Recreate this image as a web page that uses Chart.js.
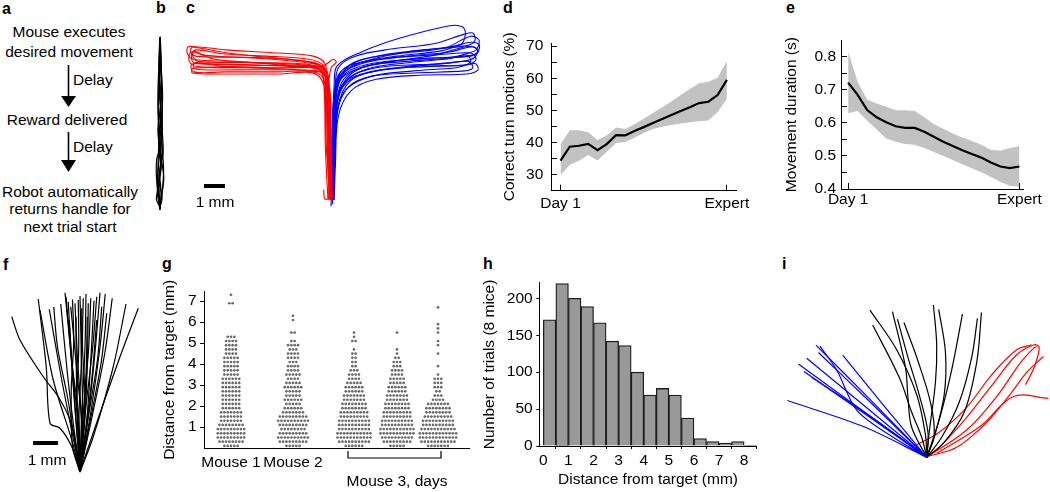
<!DOCTYPE html>
<html>
<head>
<meta charset="utf-8">
<script src="https://cdn.jsdelivr.net/npm/chart.js@4.4.1/dist/chart.umd.min.js"></script>
<style>
  body { margin: 0; width: 1050px; height: 492px; position: relative; overflow: hidden; background: #fff;
         font-family: 'Liberation Sans', Arial, sans-serif; color: #000; }
  canvas { position: absolute; }
  .lbl { position: absolute; font-weight: bold; font-size: 16px; line-height: 16px; }
  .t { position: absolute; font-size: 15.5px; line-height: 15.5px; white-space: nowrap; transform: translate(-50%, -50%); }
  .tl { position: absolute; font-size: 15.5px; line-height: 15.5px; white-space: nowrap; transform: translateY(-50%); }
  .bar { position: absolute; background: #000; }
  svg { position: absolute; left: 0; top: 0; }
</style>
</head>
<body>

<!-- panel letters -->
<div class="lbl" style="left:2px;top:1px">a</div>
<div class="lbl" style="left:156px;top:0px">b</div>
<div class="lbl" style="left:186px;top:0px">c</div>
<div class="lbl" style="left:503px;top:0px">d</div>
<div class="lbl" style="left:786px;top:0px">e</div>
<div class="lbl" style="left:3px;top:257px">f</div>
<div class="lbl" style="left:162px;top:256px">g</div>
<div class="lbl" style="left:483px;top:256px">h</div>
<div class="lbl" style="left:782px;top:256px">i</div>

<!-- panel a: task sequence -->
<div class="t" style="left:69px;top:32px">Mouse executes</div>
<div class="t" style="left:69px;top:52px">desired movement</div>
<div class="tl" style="left:73px;top:80px">Delay</div>
<div class="t" style="left:67px;top:120px">Reward delivered</div>
<div class="tl" style="left:73px;top:147px">Delay</div>
<div class="t" style="left:70px;top:192px">Robot automatically</div>
<div class="t" style="left:70px;top:209px">returns handle for</div>
<div class="t" style="left:70px;top:227px">next trial start</div>
<svg width="160" height="240">
  <line x1="68.5" y1="65" x2="68.5" y2="98" stroke="#000" stroke-width="1.6"/>
  <polygon points="61,96 76,96 68.5,107" fill="#000"/>
  <line x1="68.5" y1="132" x2="68.5" y2="162" stroke="#000" stroke-width="1.6"/>
  <polygon points="61,160 76,160 68.5,172" fill="#000"/>
</svg>

<!-- trajectory panels -->
<canvas id="chartB" width="25" height="195" style="left:150px;top:25px"></canvas>
<canvas id="chartC" width="310" height="200" style="left:180px;top:15px"></canvas>
<div class="bar" style="left:204px;top:184px;width:21px;height:4px"></div>
<div class="t" style="left:215px;top:202px">1 mm</div>

<canvas id="chartD" width="270" height="200" style="left:490px;top:20px"></canvas>
<canvas id="chartE" width="270" height="200" style="left:780px;top:20px"></canvas>

<canvas id="chartF" width="160" height="200" style="left:0px;top:280px"></canvas>
<div class="bar" style="left:33px;top:441px;width:25px;height:4px"></div>
<div class="t" style="left:47px;top:460px">1 mm</div>

<canvas id="chartG" width="320" height="220" style="left:160px;top:270px"></canvas>
<canvas id="chartH" width="302" height="220" style="left:478px;top:270px"></canvas>
<canvas id="chartI" width="270" height="200" style="left:780px;top:280px"></canvas>

<script>
// ---- d: correct turn motions (%) per session
const sessionLabels = ['Day 1', '', '', '', '', '', '', '', '', '', '', '', '', '', '', '', '', '', 'Expert'];
const turnMean  = [34.4, 38.7, 39.0, 39.6, 37.6, 39.5, 42.3, 42.2, 43.6, 44.8, 46.1, 47.3, 48.6, 49.8, 51.0, 52.3, 52.7, 54.8, 59.5];
const turnUpper = [39.5, 43.8, 43.8, 43.2, 40.8, 42.2, 44.7, 44.2, 45.7, 47.4, 49.2, 51.0, 52.8, 54.8, 56.7, 58.5, 58.9, 60.2, 65.4];
const turnLower = [29.8, 33.1, 34.3, 36.1, 34.4, 37.1, 39.8, 40.2, 41.5, 43.0, 44.2, 44.9, 45.5, 45.9, 46.3, 46.6, 46.9, 49.4, 53.6];
const turnTicks = [30, 35, 40, 45, 50, 55, 60, 65, 70];

// ---- e: movement duration (s) per session
const durMean  = [0.722, 0.685, 0.639, 0.617, 0.602, 0.590, 0.585, 0.585, 0.573, 0.558, 0.543, 0.530, 0.517, 0.506, 0.495, 0.480, 0.468, 0.463, 0.468];
const durUpper = [0.815, 0.724, 0.670, 0.659, 0.649, 0.638, 0.638, 0.636, 0.617, 0.597, 0.582, 0.568, 0.556, 0.545, 0.534, 0.519, 0.516, 0.524, 0.529];
const durLower = [0.629, 0.636, 0.607, 0.580, 0.553, 0.543, 0.536, 0.534, 0.524, 0.512, 0.500, 0.488, 0.475, 0.463, 0.451, 0.436, 0.421, 0.410, 0.407];
const durTicks = [0.4, 0.45, 0.5, 0.55, 0.6, 0.65, 0.7, 0.75, 0.8];

// ---- g: distance from target, dots per 0.2 mm row (row 0 = 0-0.2 mm)
const groupNames = ['Mouse 1', 'Mouse 2', 'Mouse 3 day 1', 'Mouse 3 day 2', 'Mouse 3 day 3'];
const gTickLabels = ['Mouse 1', 'Mouse 2', ['', 'Mouse 3, days']];
const mouse1Rows = [5, 8, 9, 9, 9, 8, 7, 7, 7, 6, 6, 6, 6, 6, 6, 6, 6, 5, 5, 5, 5, 5, 4, 4, 4, 4, 3, 0, 0, 0, 0, 0, 0, 0, 2, 0, 1];
const mouse2Rows = [5, 9, 10, 9, 8, 9, 10, 9, 7, 6, 5, 6, 5, 5, 6, 5, 4, 5, 4, 4, 3, 4, 4, 3, 4, 2, 0, 2, 0, 0, 1, 1];
const day1Rows   = [6, 10, 11, 11, 10, 10, 10, 9, 9, 8, 8, 7, 7, 6, 6, 5, 4, 4, 3, 2, 2, 2, 2, 1, 0, 2, 1, 1];
const day2Rows   = [5, 9, 10, 11, 11, 10, 10, 9, 9, 8, 8, 7, 7, 6, 6, 5, 5, 4, 4, 3, 3, 2, 1, 1, 0, 0, 0, 1];
const day3Rows   = [7, 11, 12, 12, 11, 10, 10, 9, 8, 8, 7, 4, 3, 2, 3, 3, 3, 1, 0, 1, 0, 0, 1, 0, 1, 1, 0, 1, 1, 1, 0, 0, 0, 1];
const distTicks = [1, 2, 3, 4, 5, 6, 7];

// ---- h: histogram, 0.5 mm bins
const binStarts = [0, 0.5, 1, 1.5, 2, 2.5, 3, 3.5, 4, 4.5, 5, 5.5, 6, 6.5, 7, 7.5, 8];
const trialCounts = [171, 220, 200, 189, 167, 142, 136, 100, 69, 78, 69, 38, 10, 6, 4, 6, 1];
const countTicks = [0, 50, 100, 150, 200];
const mmTicks = [0, 1, 2, 3, 4, 5, 6, 7, 8];

// ---- b: straight-movement traces (mm)
const straightPaths = [
  [[0, 0], [-0.12, 0.8], [-0.1, 2], [-0.05, 3.5], [-0.08, 5], [-0.03, 6.5], [0, 8.25]],
  [[0, 0.1], [0.12, 1], [0.17, 2], [0.08, 3.3], [0.1, 4.8], [0.05, 6.5], [0.02, 8.1]],
  [[0.02, 0.2], [-0.15, 1.3], [-0.16, 2.4], [0.02, 3], [-0.08, 4.2], [-0.1, 5.5], [-0.05, 7], [-0.02, 8]],
  [[0, 0.05], [0.05, 0.9], [-0.02, 1.8], [0.15, 2.7], [0.1, 4], [0.12, 5.6], [0.03, 7.2], [0, 8.2]],
  [[0.01, 0.3], [0.18, 1.5], [0.05, 2.5], [-0.1, 3.8], [0.05, 5.2], [-0.05, 6.8], [-0.01, 7.9]],
  [[0, 0], [-0.05, 1.5], [0.1, 2.9], [0, 4.5], [0.08, 6], [0.02, 7.5], [0.01, 8.25]],
  [[0.02, 0.1], [-0.08, 1.1], [0.06, 2.2], [-0.06, 3.4], [0.04, 4.6], [-0.04, 6.1], [0.02, 7.6], [0, 8.2]],
  [[-0.02, 0.05], [0.1, 0.6], [-0.1, 1.6], [0.1, 3.9], [-0.05, 5.9], [0.05, 7], [0.01, 8.15]],
  [[0, 0.15], [-0.17, 0.5], [-0.1, 1.0], [0.05, 2.0], [-0.02, 3.0], [0.06, 4.2], [-0.02, 5.8], [0, 8.0]]
];

// ---- c: left (red) and right (blue) turn trajectories (mm)
const leftTurns = [
  [[0, 0], [-0.1, 2], [-0.15, 4.5], [-0.2, 5.8], [-0.6, 6.45], [-2, 6.7], [-4.5, 6.95], [-6.3, 7.25], [-6.75, 7.3], [-6.8, 7.0], [-6.5, 6.7], [-4.5, 6.6], [-2, 6.4], [-0.5, 6.2], [-0.1, 5.4], [0, 2.5], [0.05, 0]],
  [[0.05, 0], [-0.05, 2.5], [-0.1, 5], [0.05, 6.3], [0.3, 6.55], [0.15, 6.7], [-0.3, 6.4], [-1, 6.4], [-3, 6.5], [-5.5, 6.7], [-6.6, 7.05], [-6.7, 6.6], [-6.3, 6.35], [-4, 6.3], [-1.5, 6.2], [-0.3, 6.0], [-0.05, 4.8], [0.05, 1.5], [0.1, 0.1]],
  [[-0.3, 0.5], [-0.25, 0.05], [-0.05, 0.1], [-0.2, 3], [-0.25, 5.5], [-0.5, 6.25], [-1.5, 6.45], [-4, 6.55], [-6.2, 6.5], [-6.6, 6.45], [-6.5, 6.1], [-5, 6.1], [-2.5, 6.1], [-0.6, 6.05], [-0.15, 5.2], [-0.05, 2], [0, 0.05]],
  [[0.02, 0], [-0.12, 2.2], [-0.2, 5.2], [-0.35, 6.3], [-1.2, 6.55], [-3.5, 6.75], [-6, 6.9], [-6.5, 7.1], [-6.6, 6.75], [-6.4, 6.5], [-4, 6.45], [-1.8, 6.35], [-0.4, 6.2], [-0.08, 5], [0.02, 1.2], [0.08, 0.05]],
  [[0.05, 0.05], [-0.08, 2.8], [-0.15, 5.4], [-0.3, 6.4], [-1, 6.7], [-3, 6.85], [-5, 6.95], [-6.4, 7.15], [-6.55, 6.9], [-6.3, 6.6], [-3.5, 6.55], [-1, 6.45], [-0.2, 6.1], [0.02, 4], [0.08, 0.5]],
  [[-0.1, 0.05], [-0.22, 2.5], [-0.28, 5.3], [-0.45, 6.15], [-1.4, 6.35], [-3.5, 6.4], [-6, 6.3], [-6.55, 6.25], [-6.55, 6.05], [-5, 6.0], [-2.5, 6.0], [-0.6, 5.95], [-0.15, 4.5], [-0.05, 1.5], [-0.05, 0]],
  [[0, 0], [-0.08, 3], [-0.12, 5.6], [-0.25, 6.5], [-0.8, 6.85], [-2.5, 7.0], [-5, 7.15], [-6.5, 7.3], [-6.65, 7.1], [-6.4, 6.85], [-4, 6.8], [-1.5, 6.65], [-0.3, 6.3], [-0.02, 4.5], [0.05, 1]],
  [[0.08, 0.05], [0, 3.5], [-0.05, 5.7], [-0.2, 6.2], [-0.7, 6.3], [-2.5, 6.3], [-5, 6.35], [-6.4, 6.55], [-6.5, 6.3], [-6.1, 6.2], [-3, 6.2], [-1, 6.15], [-0.15, 5.9], [0.05, 3], [0.1, 0.1]]
];
const rightTurns = [
  [[0.1, 0], [0.15, 3], [0.2, 5.5], [0.35, 6.4], [1.5, 7.05], [3.3, 7.7], [5.7, 8.3], [6.3, 8.25], [6.45, 7.9], [6.2, 7.4], [4, 7.1], [2, 6.7], [0.7, 6.1], [0.3, 5], [0.2, 2], [0.15, 0]],
  [[0.05, -0.3], [0.1, 2.5], [0.15, 4.5], [0.4, 5.6], [1.2, 6.2], [3, 6.6], [5, 6.9], [6.5, 7.3], [7.0, 7.2], [6.9, 6.8], [6.3, 6.6], [4, 6.4], [2, 6.1], [0.8, 5.6], [0.3, 4.5], [0.15, 1]],
  [[0.1, 0], [0.2, 3], [0.3, 4.6], [0.6, 5.5], [1.5, 6.0], [3.5, 6.3], [5.5, 6.5], [6.6, 6.6], [6.8, 6.3], [6.4, 6.15], [4, 6.05], [2, 5.9], [0.9, 5.4], [0.35, 4.2], [0.2, 1]],
  [[0.15, 0.05], [0.2, 2.8], [0.25, 4.9], [0.45, 5.9], [1.3, 6.5], [3.2, 6.85], [5.3, 7.1], [6.6, 7.5], [7.1, 7.4], [7.0, 7.0], [6.5, 6.85], [4, 6.7], [2, 6.5], [0.7, 6.0], [0.3, 5], [0.2, 1.5]],
  [[0.05, 0], [0.12, 3.2], [0.2, 5.2], [0.5, 6.1], [1.6, 6.7], [3.5, 7.0], [5.5, 7.25], [6.7, 7.8], [7.1, 7.6], [6.9, 7.1], [6.2, 7.0], [4, 6.85], [2, 6.65], [0.6, 6.2], [0.25, 5], [0.1, 1]],
  [[0.2, 0], [0.28, 2.5], [0.35, 4.3], [0.8, 5.3], [2, 5.9], [4, 6.15], [6, 6.3], [6.9, 6.5], [7.05, 6.2], [6.5, 6.0], [4.5, 5.95], [2.2, 5.75], [1, 5.2], [0.4, 4], [0.25, 1.5]],
  [[0.1, 0.1], [0.18, 3], [0.25, 5.3], [0.4, 6.3], [1.2, 6.85], [3, 7.2], [5, 7.45], [6.4, 7.9], [6.8, 7.95], [6.9, 7.6], [6.5, 7.35], [4.5, 7.15], [2.5, 6.9], [0.9, 6.4], [0.3, 5.2], [0.15, 1.5]],
  [[0.12, -0.2], [0.2, 2], [0.3, 4.4], [0.7, 5.6], [1.8, 6.25], [3.8, 6.55], [5.8, 6.75], [6.7, 7.0], [6.95, 6.7], [6.6, 6.45], [4.5, 6.35], [2.4, 6.2], [1, 5.7], [0.4, 4.5], [0.2, 1.2]],
  [[0.08, 0], [0.15, 3], [0.22, 5], [0.55, 6.0], [1.7, 6.55], [3.7, 6.85], [5.7, 7.05], [6.8, 7.3], [7.05, 7.05], [6.7, 6.85], [4.6, 6.75], [2.5, 6.55], [1, 6.0], [0.35, 4.8], [0.15, 1.2]],
  [[0.15, 0], [0.25, 2.5], [0.32, 4.7], [0.65, 5.75], [1.6, 6.35], [3.6, 6.6], [5.6, 6.75], [6.5, 6.9], [6.7, 6.6], [6.3, 6.4], [4.3, 6.45], [2.2, 6.3], [0.9, 5.8], [0.35, 4.6], [0.2, 1]]
];

// ---- f: reach trajectories toward target (mm from start)
const reachPaths = [
  [[0, 0], [-0.11, 0.77], [-0.4, 2.08], [-0.87, 3.01], [-1.47, 3.81], [-2.4, 5.28], [-2.73, 6.21]],
  [[0, 0], [-0.33, 1.01], [-0.8, 1.75], [-1.2, 1.95], [-1.35, 4.2], [-1.67, 6.92]],
  [[0, 0], [-0.33, 1.28], [-1.07, 3.68], [-1.6, 6.48]],
  [[0, 0], [-0.3, 1.5], [-0.73, 3.68], [-1.23, 6.51]],
  [[0, 0], [-0.25, 1.8], [-0.5, 3.9], [-0.77, 6.72]],
  [[0, 0], [-0.15, 2.0], [-0.33, 4.35], [-0.6, 7.17]],
  [[0, 0], [-0.05, 1.6], [-0.3, 4.1], [-0.56, 7.01]],
  [[0, 0], [-0.2, 2.5], [-0.35, 4.6], [-0.47, 6.81]],
  [[0, 0], [0.1, 1.5], [-0.1, 3.8], [-0.37, 6.61]],
  [[0, 0], [0.05, 2.2], [-0.1, 4.5], [-0.2, 6.75]],
  [[0, 0], [-0.12, 2.8], [-0.05, 5], [-0.07, 6.88]],
  [[0, 0], [0.1, 2.5], [0.05, 4.8], [0, 7.04]],
  [[0, 0], [-0.05, 2.0], [0.05, 4.3], [0.07, 6.55]],
  [[0, 0], [0.08, 2.4], [0.2, 5.0], [0.24, 7.12]],
  [[0, 0], [0.2, 2.2], [0.3, 4.6], [0.33, 6.75]],
  [[0, 0], [0.15, 2.6], [0.35, 5.0], [0.43, 6.95]],
  [[0, 0], [0.28, 2.2], [0.45, 4.8], [0.56, 6.85]],
  [[0, 0], [0.2, 2.3], [0.5, 4.9], [0.67, 7.01]],
  [[0, 0], [0.35, 2.4], [0.62, 5.0], [0.8, 7.17]],
  [[0, 0], [0.3, 2.0], [0.7, 4.5], [0.87, 6.61]],
  [[0, 0], [0.45, 2.5], [0.8, 5.0], [1.01, 7.12]],
  [[0, 0], [0.4, 2.0], [0.85, 4.4], [1.07, 6.35]],
  [[0, 0], [0.5, 2.3], [1.0, 4.8], [1.29, 6.95]],
  [[0, 0], [0.53, 1.41], [1.33, 4.21], [1.84, 6.72]],
  [[0, 0], [0.2, 0.61], [0.8, 2.35], [1.6, 4.61], [2.33, 6.55]],
  [[0, 0], [-0.1, 2.2], [-0.15, 4.3], [-0.16, 6.21]],
  [[0, 0], [0.15, 2.0], [0.25, 4.2], [0.29, 6.21]],
  [[0, 0], [0.25, 1.8], [0.5, 4.0], [0.67, 6.08]],
  [[0, 0], [-0.05, 2.2], [-0.3, 4.2], [-0.43, 6.08]],
  [[0, 0], [-0.2, 1.2], [-0.5, 3.0], [-0.9, 5.0], [-1.05, 6.6]],
  [[0, 0], [0.1, 1.0], [0.2, 3.0], [0.1, 5.0], [0.13, 6.95]],
  [[0, 0], [-0.3, 1.0], [-0.35, 3.3], [-0.25, 5.2], [-0.3, 6.9]]
];

// ---- i: three target directions (mm from start)
const iBluePaths = [
  [[0, 0], [-2.53, 1.23], [-5.57, 2.27]],
  [[0, 0], [-2.5, 1.82], [-5.13, 3.73]],
  [[0, 0], [-2.45, 1.72], [-4.91, 3.43]],
  [[0, 0], [-2.4, 1.98], [-4.8, 3.96]],
  [[0, 0], [-2.2, 2.25], [-4.43, 4.49]],
  [[0, 0], [-1.5, 0.9], [-2.8, 1.89], [-3.6, 3.49], [-4.27, 4.45]],
  [[0, 0], [-2.15, 2.1], [-4.33, 4.19]],
  [[0, 0], [-1.7, 2.05], [-3.36, 4.09]],
  [[0, 0], [-2.2, 1.6], [-4.6, 3.2]]
];
const iBlackPaths = [
  [[0, 0], [-0.05, 0.9], [-0.4, 2.5], [-1.2, 4.3], [-2.27, 5.89]],
  [[0, 0], [-0.2, 0.8], [-0.6, 1.8], [-1.1, 3.2], [-2.16, 5.29]],
  [[0, 0], [-0.6, 1.2], [-0.75, 2.4], [-0.85, 3.6], [-1.37, 5.83]],
  [[0, 0], [0.05, 1.0], [-0.3, 2.5], [-0.75, 4.0], [-1.17, 5.53]],
  [[0, 0], [0.3, 0.9], [0.15, 2.2], [-0.4, 4], [-0.91, 5.39]],
  [[0, 0], [0.1, 1.0], [0.35, 3.0], [0.4, 4.5], [0.27, 6.09]],
  [[0, 0], [0.3, 0.8], [0.7, 2.5], [0.75, 4.2], [0.48, 5.92]],
  [[0, 0], [0.5, 1.5], [1.0, 3.5], [1.43, 5.73]],
  [[0, 0], [0.6, 0.8], [1.3, 2.2], [1.8, 4.0], [2.03, 5.56]],
  [[0, 0], [0.7, 0.6], [1.5, 1.8], [2.0, 3.8], [2.19, 5.79]]
];
const iRedPaths = [
  [[0, 0], [1.6, 1.09], [2.8, 2.43], [3.73, 3.76], [4.27, 4.36], [4.4, 4.43]],
  [[0.4, 0.16], [2.13, 1.23], [3.47, 2.43], [4.87, 2.36]],
  [[0.1, 0.05], [1.2, 0.4], [2.4, 1.4], [3.4, 2.6], [4.0, 3.4], [4.67, 4.03]],
  [[0, 0], [0.6, 0.5], [1.6, 1.6], [2.7, 3.0], [3.6, 4.1], [4.3, 4.5], [4.5, 4.4], [4.3, 3.6], [3.95, 2.9]],
  [[-0.4, 0.5], [0.5, 1.0], [1.6, 2.0], [2.6, 3.3], [3.6, 4.3], [4.2, 4.5]]
];

// layout helpers (not data)
const groupPos = [27, 89, 150, 193, 234];
const dotGap = 3.3;
const rowStep = 0.2;

Chart.defaults.font.family = "'Liberation Sans', Arial, sans-serif";
Chart.defaults.font.size = 15.5;
Chart.defaults.color = '#000';
Chart.defaults.animation = false;
Chart.defaults.events = [];
Chart.defaults.plugins.legend.display = false;
Chart.defaults.plugins.tooltip.enabled = false;

const clear = 'rgba(0,0,0,0)';

function pathChart(id, xr, yr, groups) {
  const datasets = [];
  groups.forEach(g => g.paths.forEach(p => datasets.push({
    data: p.map(q => ({ x: q[0], y: q[1] })),
    showLine: true, borderColor: g.color, borderWidth: g.width,
    pointRadius: 0, tension: g.tension, fill: false
  })));
  new Chart(document.getElementById(id), {
    type: 'scatter',
    data: { datasets },
    options: {
      responsive: false,
      layout: { padding: 0 },
      scales: {
        x: { type: 'linear', display: false, min: xr[0], max: xr[1] },
        y: { type: 'linear', display: false, min: yr[0], max: yr[1] }
      }
    }
  });
}

pathChart('chartB', [-0.476, 0.714], [-0.476, 8.81], [{ paths: straightPaths, color: '#000', width: 1.2, tension: 0.3 }]);
pathChart('chartC', [-7.143, 7.619], [-0.714, 8.81], [
  { paths: leftTurns, color: '#ff0000', width: 1.1, tension: 0.35 },
  { paths: rightTurns, color: '#0000ff', width: 1.1, tension: 0.35 }
]);
pathChart('chartF', [-3.2, 3.2], [-0.32, 7.68], [{ paths: reachPaths, color: '#000', width: 1.2, tension: 0.3 }]);
pathChart('chartI', [-5.868, 4.932], [-0.908, 7.092], [
  { paths: iBluePaths, color: '#0000ff', width: 1.2, tension: 0.3 },
  { paths: iBlackPaths, color: '#000', width: 1.2, tension: 0.35 },
  { paths: iRedPaths, color: '#ff0000', width: 1.2, tension: 0.35 }
]);

function pts(vals) { return vals.map((v, i) => ({ x: i, y: v })); }

function sessionChart(id, mean, upper, lower, o) {
  new Chart(document.getElementById(id), {
    type: 'line',
    data: {
      datasets: [
        // mean first so it is drawn on top of the band
        { data: pts(mean), fill: false, borderColor: '#000', borderWidth: 2.2, pointRadius: 0 },
        { data: pts(upper), fill: '+1', backgroundColor: '#c2c2c2', borderColor: clear, borderWidth: 0, pointRadius: 0 },
        { data: pts(lower), fill: false, borderColor: clear, borderWidth: 0, pointRadius: 0 }
      ]
    },
    options: {
      responsive: false,
      layout: { padding: { top: o.padTop, right: o.padRight, left: 0, bottom: 0 } },
      scales: {
        x: {
          type: 'linear', min: o.xMin, max: o.xMax, offset: false,
          afterFit: s => { s.height = o.xHeight; },
          afterBuildTicks: s => { s.ticks = [{ value: 0 }, { value: sessionLabels.length - 1 }]; },
          ticks: { padding: o.xPad, autoSkip: false, maxRotation: 0, callback: v => sessionLabels[v] },
          grid: { drawOnChartArea: false, tickLength: -6, color: '#000' },
          border: { color: '#000', width: 1 }
        },
        y: {
          min: o.yMin, max: o.yMax,
          afterFit: s => { s.width = o.yWidth; },
          afterBuildTicks: s => { s.ticks = o.ticks.map(v => ({ value: v })); },
          ticks: { padding: o.yPad, autoSkip: false, callback: o.fmt },
          grid: { drawOnChartArea: false, tickLength: -6, color: '#000' },
          border: { color: '#000', width: 1 },
          title: { display: true, text: o.title, padding: { top: o.titlePad, bottom: 0 } }
        }
      }
    }
  });
}

sessionChart('chartD', turnMean, turnUpper, turnLower, {
  padTop: 14.9, padRight: 15, xMin: -1.03, xMax: 19.0, xHeight: 29.3, xPad: 10.0,
  yMin: 25, yMax: 71, yWidth: 61, yPad: 13.7, ticks: turnTicks, titlePad: 10.7,
  fmt: v => (v % 10 === 0 ? String(v) : ''), title: 'Correct turn motions (%)'
});
sessionChart('chartE', durMean, durUpper, durLower, {
  padTop: 15, padRight: 23.3, xMin: -0.75, xMax: 18.41, xHeight: 31, xPad: 7.7,
  yMin: 0.4, yMax: 0.85, yWidth: 61, yPad: 11, ticks: durTicks, titlePad: 2.7,
  fmt: v => (Math.round(v * 100) % 10 === 0 ? v.toFixed(1) : ''), title: 'Movement duration (s)'
});

// ---- g: beeswarm built from the row counts
function swarm(rows, center) {
  const out = [];
  rows.forEach((n, i) => {
    const y = (i + 0.5) * rowStep;
    for (let j = 0; j < n; j++) out.push({ x: center + (j - (n - 1) / 2) * dotGap, y });
  });
  return out;
}
const swarmRows = [mouse1Rows, mouse2Rows, day1Rows, day2Rows, day3Rows];

const bracketPlugin = {
  id: 'bracket',
  afterDraw(chart) {
    const xs = chart.scales.x, ctx = chart.ctx;
    const x1 = xs.getPixelForValue(groupPos[2]) - 6, x2 = xs.getPixelForValue(groupPos[4]) + 3;
    const y0 = chart.chartArea.bottom + 3, y1 = chart.chartArea.bottom + 10;
    ctx.save();
    ctx.strokeStyle = '#000'; ctx.lineWidth = 1.2;
    ctx.beginPath();
    ctx.moveTo(x1, y0); ctx.lineTo(x1, y1); ctx.lineTo(x2, y1); ctx.lineTo(x2, y0);
    ctx.stroke();
    ctx.restore();
  }
};

new Chart(document.getElementById('chartG'), {
  type: 'scatter',
  data: {
    datasets: swarmRows.map((rows, k) => ({
      label: groupNames[k], data: swarm(rows, groupPos[k]),
      pointRadius: 1.35, backgroundColor: '#6a6a6a', borderWidth: 0
    }))
  },
  options: {
    responsive: false,
    layout: { padding: { top: 21.7, right: 11, left: 0, bottom: 0 } },
    scales: {
      x: {
        type: 'linear', min: 0, max: 265, offset: false,
        afterFit: s => { s.height = 42; },
        afterBuildTicks: s => { s.ticks = [{ value: groupPos[0] }, { value: groupPos[1] }, { value: groupPos[3] }]; },
        ticks: { padding: 5.7, autoSkip: false, maxRotation: 0, callback: (v, i) => gTickLabels[i] },
        grid: { drawOnChartArea: false, drawTicks: false },
        border: { color: '#000', width: 1 }
      },
      y: {
        min: 0, max: 7.45,
        afterFit: s => { s.width = 44; },
        afterBuildTicks: s => { s.ticks = distTicks.map(v => ({ value: v })); },
        ticks: { padding: 3.3, autoSkip: false },
        grid: { drawOnChartArea: false, tickLength: 4, color: '#000' },
        border: { color: '#000', width: 1 },
        title: { display: true, text: 'Distance from target (mm)', padding: { top: 0.7, bottom: 0 } }
      }
    }
  },
  plugins: [bracketPlugin]
});

// ---- h: histogram
new Chart(document.getElementById('chartH'), {
  type: 'bar',
  data: {
    datasets: [{
      data: binStarts.map((b, i) => ({ x: b + 0.25, y: trialCounts[i] })),
      backgroundColor: '#999999', borderColor: '#1e1e1e', borderWidth: 1.3,
      barPercentage: 1, categoryPercentage: 1
    }]
  },
  options: {
    responsive: false,
    layout: { padding: { top: 12.3, right: 23.3, left: 0, bottom: 0 } },
    scales: {
      x: {
        type: 'linear', min: -0.16, max: 8.5, offset: false,
        afterFit: s => { s.height = 44; },
        afterBuildTicks: s => { s.ticks = mmTicks.map(v => ({ value: v })); },
        ticks: { padding: 2.4, autoSkip: false, maxRotation: 0 },
        grid: { drawOnChartArea: false, tickLength: 3, color: '#000' },
        border: { color: '#000', width: 1 },
        title: { display: true, text: 'Distance from target (mm)', padding: { top: 0, bottom: 0.7 } }
      },
      y: {
        min: 0, max: 221,
        afterFit: s => { s.width = 61.3; },
        afterBuildTicks: s => { s.ticks = countTicks.map(v => ({ value: v })); },
        ticks: { padding: 3.6, autoSkip: false },
        grid: { drawOnChartArea: false, tickLength: 3, color: '#000' },
        border: { color: '#000', width: 1 },
        title: { display: true, text: 'Number of trials (8 mice)', padding: { top: 2.7, bottom: 0 } }
      }
    }
  }
});
</script>
</body>
</html>
